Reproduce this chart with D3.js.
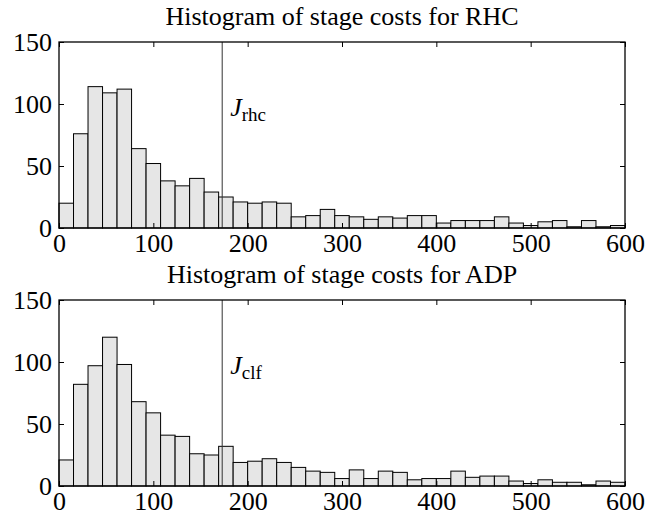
<!DOCTYPE html>
<html>
<head>
<meta charset="utf-8">
<script src="https://cdn.jsdelivr.net/npm/d3@7"></script>
<style>
  body { margin: 0; background: #fff; }
  svg text { font-family: "Liberation Serif", "DejaVu Serif", serif; fill: #000; }
</style>
</head>
<body>
<div id="chart"></div>
<script>
// Histogram counts: 39 equal bins spanning 0..600
const binCount = 39;
const xDomain = [0, 600];
const yDomain = [0, 150];
const xTicks = [0, 100, 200, 300, 400, 500, 600];
const yTicks = [0, 50, 100, 150];

const rhcCounts = [20, 76, 114, 109, 112, 64, 52, 38, 34, 40, 29, 25, 21, 20, 21, 20, 9, 10, 15, 10,
                   9, 7, 9, 8, 10, 10, 4, 6, 6, 6, 9, 4, 2, 5, 6, 1, 6, 1, 2];
const adpCounts = [21, 82, 97, 120, 98, 68, 59, 41, 40, 26, 25, 32, 19, 20, 22, 19, 15, 12, 11, 6,
                   13, 6, 12, 11, 5, 6, 6, 12, 7, 8, 8, 4, 2, 5, 3, 3, 1, 4, 3];

const panels = [
    { title: "Histogram of stage costs for RHC", counts: rhcCounts, mark: 173, sub: "rhc", top: 42 },
    { title: "Histogram of stage costs for ADP", counts: adpCounts, mark: 173, sub: "clf", top: 300 }
];

const width = 662, height = 521;
const left = 59, right = 625, plotH = 186;

const svg = d3.select("#chart").append("svg")
    .attr("width", width)
    .attr("height", height);

const x = d3.scaleLinear().domain(xDomain).range([left, right]);
const binW = (xDomain[1] - xDomain[0]) / binCount;

panels.forEach(p => {
    const y = d3.scaleLinear().domain(yDomain).range([p.top + plotH, p.top]);
    const g = svg.append("g");

    // title
    g.append("text")
        .attr("x", (left + right) / 2)
        .attr("y", p.top - 17)
        .attr("text-anchor", "middle")
        .style("font-size", "26px")
        .text(p.title);

    // bars
    g.append("g").selectAll("rect")
        .data(p.counts)
        .enter()
        .append("rect")
        .attr("x", (d, i) => x(i * binW))
        .attr("width", (d, i) => x((i + 1) * binW) - x(i * binW))
        .attr("y", d => y(d))
        .attr("height", d => y(0) - y(d))
        .style("fill", "#e6e6e6")
        .style("stroke", "#000")
        .style("stroke-width", 1);

    // mean cost marker
    g.append("line")
        .attr("x1", x(p.mark)).attr("x2", x(p.mark))
        .attr("y1", y(150)).attr("y2", y(0))
        .style("stroke", "#333")
        .style("stroke-width", 1);

    const lbl = g.append("text")
        .attr("x", x(p.mark) + 8)
        .attr("y", y(90))
        .style("font-size", "26px");
    lbl.append("tspan").style("font-style", "italic").text("J");
    lbl.append("tspan").attr("dy", 5).style("font-size", "19px").text(p.sub);

    // axes with inward ticks on all sides
    const axL = g.append("g").attr("transform", `translate(${left},0)`)
        .call(d3.axisLeft(y).tickValues(yTicks).tickSize(-5).tickPadding(7));
    const axR = g.append("g").attr("transform", `translate(${right},0)`)
        .call(d3.axisRight(y).tickValues(yTicks).tickSize(-5).tickFormat(""));
    const axB = g.append("g").attr("transform", `translate(0,${y(0)})`)
        .call(d3.axisBottom(x).tickValues(xTicks).tickSize(-5).tickPadding(6));
    const axT = g.append("g").attr("transform", `translate(0,${y(150)})`)
        .call(d3.axisTop(x).tickValues(xTicks).tickSize(-5).tickFormat(""));

    [axL, axR, axB, axT].forEach(a => {
        a.select(".domain").remove();
        a.selectAll("line").style("stroke", "#000");
        a.selectAll("text").style("font-size", "26px").style("font-family", "Liberation Serif, serif");
    });

    g.append("rect")
        .attr("x", left).attr("y", p.top)
        .attr("width", right - left).attr("height", plotH)
        .style("fill", "none")
        .style("stroke", "#000")
        .style("stroke-width", 1.3);
});
</script>
</body>
</html>
